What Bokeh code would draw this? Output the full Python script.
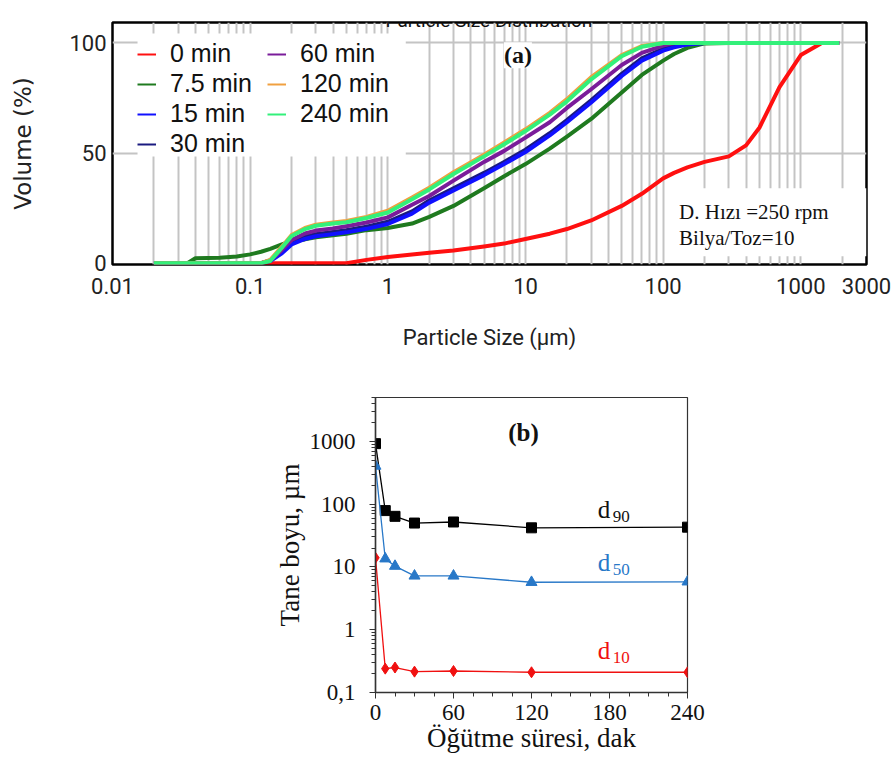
import math
from bokeh.plotting import figure
from bokeh.models import (Range1d, FixedTicker, Legend, LegendItem, Label,
                          BoxAnnotation, ColumnDataSource)
from bokeh.embed import file_html
from bokeh.resources import INLINE

nan = float("nan")

# ---------------- Panel (a): cumulative particle size distribution ----------------
size_um = [0.02, 0.035, 0.04, 0.06, 0.08, 0.1, 0.12, 0.14, 0.17, 0.2,
           0.25, 0.3, 0.4, 0.5, 0.7, 1, 1.5, 2, 3, 5,
           7, 10, 15, 20, 30, 50, 70, 100, 120, 150,
           200, 300, 400, 500, 700, 1000, 1400, 1900]

vol_0min = [nan, nan, nan, nan, nan, nan, 0, 0, 0, 0,
            0, 0, 0, 0, 1.5, 2.8, 3.9, 4.7, 5.8, 7.6,
            8.9, 11.0, 13.4, 15.5, 19.4, 26.0, 31.5, 38.5, 41.0, 43.5,
            46.0, 48.5, 53.5, 61.5, 80.0, 94.5, 99.8, nan]
vol_7_5min = [0, 0, 2.2, 2.5, 3.0, 4.0, 5.2, 6.5, 8.5, 10.0,
              10.8, 11.8, 12.7, 13.4, 15.0, 16.0, 18.0, 21.0, 26.0, 34.0,
              39.5, 45.0, 52.0, 57.5, 65.5, 77.5, 85.5, 92.0, 95.0, 97.8,
              99.8, 100, 100, 100, 100, 100, 100, 100]
vol_15min = [0, 0, 0, 0, 0, 0, 0, 1.0, 4.5, 8.5,
             11.0, 12.2, 13.2, 14.0, 15.6, 17.8, 22.5, 27.5, 33.0, 40.0,
             45.0, 50.5, 58.0, 64.0, 73.0, 85.0, 92.0, 96.5, 98.0, 99.3,
             100, 100, 100, 100, 100, 100, 100, 100]
vol_30min = [0, 0, 0, 0, 0, 0, 0, 1.2, 5.5, 9.5,
             12.0, 13.2, 14.2, 15.0, 16.6, 18.8, 23.5, 28.5, 34.0, 41.0,
             46.0, 51.5, 59.0, 65.0, 74.0, 86.0, 93.0, 97.3, 98.6, 99.6,
             100, 100, 100, 100, 100, 100, 100, 100]
vol_60min = [0, 0, 0, 0, 0, 0, 0, 1.2, 6.0, 10.5,
             13.5, 14.8, 15.8, 16.8, 18.5, 20.8, 26.5, 30.5, 37.5, 46.0,
             51.0, 57.0, 64.0, 70.5, 79.0, 90.0, 95.5, 98.8, 100, 100,
             100, 100, 100, 100, 100, 100, 100, 100]
vol_120min = [0, 0, 0, 0, 0, 0, 0, 1.5, 7.5, 12.8,
              16.0, 17.5, 18.5, 19.2, 21.0, 23.8, 29.8, 34.3, 41.3, 49.3,
              54.8, 60.8, 68.3, 74.5, 84.5, 94.5, 98.6, 100, 100, 100,
              100, 100, 100, 100, 100, 100, 100, 100]
vol_240min = [0, 0, 0, 0, 0, 0, 0, 1.0, 7.0, 12.3,
              15.5, 17.0, 18.0, 18.6, 20.5, 23.0, 29.0, 33.5, 40.5, 48.5,
              54.0, 60.0, 67.5, 73.5, 83.5, 94.0, 98.3, 100, 100, 100,
              100, 100, 100, 100, 100, 100, 100, 100]

series_labels = ["0 min", "7.5 min", "15 min", "30 min", "60 min", "120 min", "240 min"]
series_values = [vol_0min, vol_7_5min, vol_15min, vol_30min, vol_60min, vol_120min, vol_240min]
series_colors = ["#ff1010", "#1f7a1f", "#1010ff", "#1a1a80", "#7a1c9a", "#f0a040", "#33f07a"]
draw_order = [0, 1, 3, 2, 4, 5, 6]   # 30 min drawn beneath 15 min

x_ticks_a = [0.01, 0.1, 1, 10, 100, 1000, 3000]
x_labels_a = ["0.01", "0.1", "1", "10", "100", "1000", "3000"]
y_ticks_a = [0, 50, 100]
y_labels_a = ["0", "50", "100"]

# ---------------- Panel (b): d10 / d50 / d90 vs milling time ----------------
time_min = [0, 7.5, 15, 30, 60, 120, 240]
d90 = [920, 79, 64, 50, 52, 42, 43]
d50 = [405, 13.5, 10.3, 7.2, 7.2, 5.7, 5.8]
d10 = [14, 0.24, 0.25, 0.215, 0.22, 0.21, 0.21]

x_ticks_b = [0, 60, 120, 180, 240]
y_ticks_b = [0.1, 1, 10, 100, 1000]
y_labels_b = ["0,1", "1", "10", "100", "1000"]

NARROW = "Roboto"
SERIF = "Liberation Serif"

# ================= Figure (a) =================
p1 = figure(width=895, height=365, x_axis_type="log",
            x_range=Range1d(0.01, 3000), y_range=Range1d(-0.6, 109.3),
            output_backend="svg", toolbar_location=None,
            min_border_left=112, min_border_right=29,
            min_border_top=22, min_border_bottom=101)
p1.outline_line_color = "black"
p1.outline_line_width = 2.5
p1.background_fill_color = "white"
p1.border_fill_color = "white"

grid_x = [m * 10.0 ** k for k in range(-2, 4) for m in range(1, 10)]
grid_x = [g for g in grid_x if 0.011 < g < 2900]
p1.xgrid.ticker = FixedTicker(ticks=grid_x)
p1.ygrid.ticker = FixedTicker(ticks=[50, 100])
p1.grid.grid_line_color = "#c4c4c4"
p1.grid.grid_line_width = 2

p1.xaxis.ticker = FixedTicker(ticks=x_ticks_a)
p1.xaxis.major_label_overrides = dict(zip(x_ticks_a, x_labels_a))
p1.yaxis.ticker = FixedTicker(ticks=y_ticks_a)
p1.yaxis.major_label_overrides = dict(zip(y_ticks_a, y_labels_a))
for ax in (p1.xaxis, p1.yaxis):
    ax.major_tick_out = 0
    ax.major_tick_in = 0
    ax.minor_tick_out = 0
    ax.minor_tick_in = 0
    ax.axis_line_color = None
    ax.major_label_text_font = NARROW
    ax.major_label_text_font_size = "22px"
    ax.major_label_text_color = "#222222"
    ax.axis_label_text_font_style = "normal"
    ax.axis_label_text_color = "#222222"
p1.xaxis.major_label_standoff = 13
p1.yaxis.major_label_standoff = 6
p1.xaxis.axis_label = "Particle Size (µm)"
p1.xaxis.axis_label_text_font = NARROW
p1.xaxis.axis_label_text_font_size = "22px"
p1.xaxis.axis_label_standoff = 28
p1.yaxis.axis_label = "Volume (%)"
p1.yaxis.axis_label_text_font = "DejaVu Sans"
p1.yaxis.axis_label_text_font_size = "23px"
p1.yaxis.axis_label_standoff = 30

src_a = ColumnDataSource(dict(size=size_um, **{f"s{i}": v for i, v in enumerate(series_values)}))
for i in draw_order:
    p1.line(x="size", y=f"s{i}", source=src_a, line_color=series_colors[i], line_width=4,
            line_join="round")

# white boxes behind the legend and the note
p1.add_layout(BoxAnnotation(left=0.0152, right=1.35, bottom=48.5, top=104.3,
                            fill_color="white", fill_alpha=1, line_color=None))
p1.add_layout(BoxAnnotation(left=105, right=3000, bottom=3.2, top=34.0,
                            fill_color="white", fill_alpha=1, line_color=None))

# thin legend proxies (one-point lines draw nothing in the plot)
leg_renderers = [p1.line(x=[size_um[0]], y=[series_values[i][0]], line_color=c, line_width=2)
                 for i, c in enumerate(series_colors)]
items = [LegendItem(label=l, renderers=[r]) for l, r in zip(series_labels, leg_renderers)]

def make_legend(its, loc):
    return Legend(items=its, location=loc, orientation="vertical",
                  padding=0, margin=0, spacing=0, glyph_width=19, glyph_height=20,
                  label_standoff=14, label_height=30,
                  label_text_font="Liberation Sans", label_text_font_size="25px",
                  label_text_color="#111111",
                  background_fill_alpha=0, border_line_color=None)

p1.add_layout(make_legend(items[:4], (25, 105.5)))
p1.add_layout(make_legend(items[4:], (155, 135.5)))

p1.add_layout(Label(x=8.81, y=94.4, text="(a)", text_font=SERIF, text_font_style="bold",
                    text_font_size="24px", text_align="center", text_baseline="middle",
                    background_fill_color="white", text_color="#111111"))
p1.add_layout(Label(x=130.6, y=23.3, text="D. Hızı =250 rpm", text_font=SERIF,
                    text_font_size="21px", text_align="left", text_baseline="middle",
                    text_color="#111111"))
p1.add_layout(Label(x=130.6, y=11.3, text="Bilya/Toz=10", text_font=SERIF,
                    text_font_size="21px", text_align="left", text_baseline="middle",
                    text_color="#111111"))
p1.add_layout(Label(x=5.43, y=110.3, text="Particle Size Distribution", text_font=NARROW,
                    text_font_size="19px", text_align="center", text_baseline="alphabetic",
                    text_color="#111111"))

# ================= Figure (b) =================
p2 = figure(width=895, height=404, y_axis_type="log",
            x_range=Range1d(0, 240), y_range=Range1d(0.1, 5000),
            output_backend="svg", toolbar_location=None,
            min_border_left=375, min_border_right=208,
            min_border_top=32, min_border_bottom=77)
p2.grid.visible = False
p2.outline_line_color = "#333333"
p2.outline_line_width = 1.2
p2.background_fill_color = "white"
p2.border_fill_color = "white"

p2.xaxis.ticker = FixedTicker(ticks=x_ticks_b,
                              minor_ticks=[t for t in range(0, 241, 15) if t % 60])
minor_y = [m * 10.0 ** k for k in range(-1, 4) for m in range(2, 10)]
p2.yaxis.ticker = FixedTicker(ticks=y_ticks_b, minor_ticks=[v for v in minor_y if v <= 5000])
p2.yaxis.major_label_overrides = dict(zip(y_ticks_b, y_labels_b))
for ax in (p2.xaxis, p2.yaxis):
    ax.major_tick_out = 6
    ax.major_tick_in = 0
    ax.minor_tick_out = 4
    ax.minor_tick_in = 0
    ax.axis_line_width = 1.5
    ax.axis_line_color = "#333333"
    ax.major_tick_line_color = "#333333"
    ax.minor_tick_line_color = "#333333"
    ax.major_label_text_font = SERIF
    ax.major_label_text_font_size = "23px"
    ax.major_label_text_color = "#111111"
    ax.axis_label_text_font = SERIF
    ax.axis_label_text_font_size = "27px"
    ax.axis_label_text_font_style = "normal"
    ax.axis_label_text_color = "#111111"
p2.xaxis.major_label_standoff = 6
p2.xaxis.axis_label_standoff = 0
p2.yaxis.major_label_standoff = 14
p2.yaxis.axis_label_standoff = 2
p2.xaxis.axis_label = "Öğütme süresi, dak"
p2.yaxis.axis_label = "Tane boyu, µm"

src_b = ColumnDataSource(dict(t=time_min, d90=d90, d50=d50, d10=d10))
p2.line(x="t", y="d90", source=src_b, line_color="black", line_width=1.3)
p2.scatter(x="t", y="d90", source=src_b, marker="square", size=10, color="black")
p2.line(x="t", y="d50", source=src_b, line_color="#2878c8", line_width=1.3)
p2.scatter(x="t", y="d50", source=src_b, marker="triangle", size=11, color="#2878c8")
p2.line(x="t", y="d10", source=src_b, line_color="#f01010", line_width=1.3)
p2.scatter(x="t", y="d10", source=src_b, marker="diamond", size=11, color="#f01010")

for txt, sub, col, yd, ys in [("d", "90", "#111111", 82, 64),
                              ("d", "50", "#2878c8", 11.8, 9.1),
                              ("d", "10", "#f01010", 0.467, 0.361)]:
    p2.add_layout(Label(x=171, y=yd, text=txt, text_font=SERIF, text_font_size="25px",
                        text_align="left", text_baseline="middle", text_color=col))
    p2.add_layout(Label(x=182.5, y=ys, text=sub, text_font=SERIF, text_font_size="17px",
                        text_align="left", text_baseline="middle", text_color=col))

p2.add_layout(Label(x=113.8, y=1390, text="(b)", text_font=SERIF, text_font_style="bold",
                    text_font_size="25px", text_align="center", text_baseline="middle",
                    text_color="#111111"))

open("out.html", "w").write(file_html([p1, p2], INLINE))
